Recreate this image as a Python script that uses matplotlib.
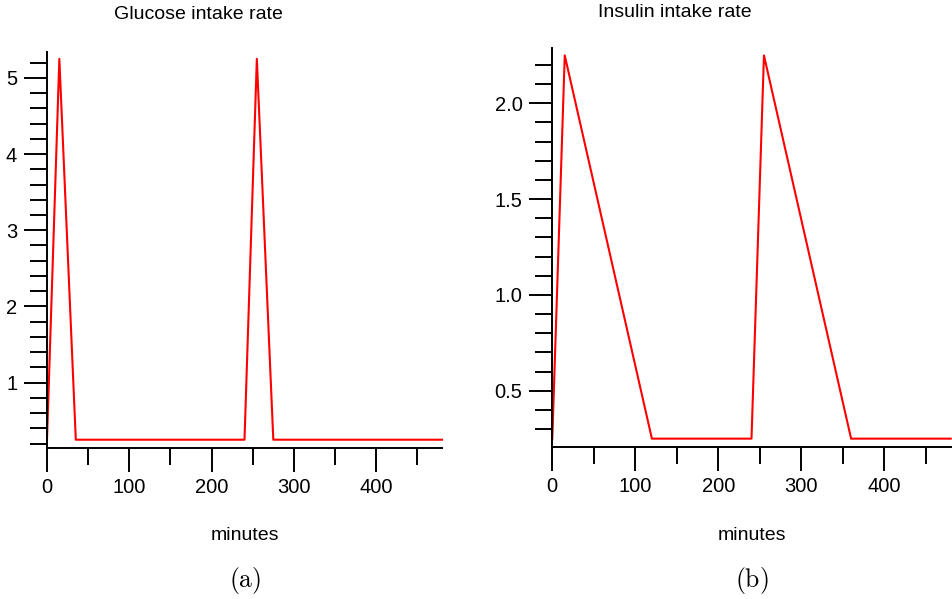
import matplotlib
matplotlib.use("Agg")
import matplotlib.pyplot as plt
from matplotlib.ticker import MultipleLocator

plt.rcParams['font.family'] = ['Liberation Sans', 'DejaVu Sans']
plt.rcParams['mathtext.fontset'] = 'cm'

# data
glucose_t = [0, 15, 35, 240, 255, 275, 480]
glucose_v = [0.25, 5.25, 0.25, 0.25, 5.25, 0.25, 0.25]
insulin_t = [0, 15, 120, 240, 255, 360, 480]
insulin_v = [0.25, 2.25, 0.25, 0.25, 2.25, 0.25, 0.25]
x_ticks = [0, 100, 200, 300, 400]
glucose_yticks = [1, 2, 3, 4, 5]
insulin_yticks = [0.5, 1.0, 1.5, 2.0]

W, H = 952, 599
fig = plt.figure(figsize=(W / 100, H / 100), dpi=100)


def px_axes(x0, x1, ytop, ybot):
    return fig.add_axes([x0 / W, 1 - ybot / H, (x1 - x0) / W, (ybot - ytop) / H])


def style(ax, ylim, yticks, yminor, ylabels):
    ax.set_xlim(0, 480)
    ax.set_ylim(*ylim)
    for s in ['top', 'right']:
        ax.spines[s].set_visible(False)
    for s in ['left', 'bottom']:
        ax.spines[s].set_linewidth(1.4)
        ax.spines[s].set_color('black')
    ax.set_xticks(x_ticks)
    ax.xaxis.set_minor_locator(MultipleLocator(50))
    ax.set_yticks(yticks)
    ax.set_yticklabels(ylabels)
    ax.yaxis.set_minor_locator(MultipleLocator(yminor))
    ax.tick_params(which='major', direction='out', length=17, width=1.4,
                   labelsize=14.5, pad=5, colors='black')
    ax.tick_params(which='minor', direction='out', length=12, width=1.4)
    ax.tick_params(axis='y', which='major', length=16.5)
    ax.tick_params(axis='y', which='minor', length=12)
    ax.set_facecolor('none')


ax1 = px_axes(47, 442, 52, 447.7)
ax1.plot(glucose_t, glucose_v, color='red', lw=1.5, clip_on=False)
style(ax1, (0.145, 5.34), glucose_yticks, 0.2, [str(v) for v in glucose_yticks])

ax2 = px_axes(552.3, 950.7, 48.3, 446.7)
ax2.plot(insulin_t, insulin_v, color='red', lw=1.5, clip_on=False)
style(ax2, (0.208, 2.287), insulin_yticks, 0.1, [f"{v:.1f}" for v in insulin_yticks])

fig.text(198.5 / W, 1 - 19 / H, "Glucose intake rate", ha='center', va='baseline', fontsize=14)
fig.text(674.7 / W, 1 - 17 / H, "Insulin intake rate", ha='center', va='baseline', fontsize=14)
fig.text(244.7 / W, 1 - 540 / H, "minutes", ha='center', va='baseline', fontsize=14)
fig.text(751.5 / W, 1 - 540 / H, "minutes", ha='center', va='baseline', fontsize=14)
fig.text(245 / W, 1 - 580 / H, r"$\mathrm{(a)}$", ha='center', va='center', fontsize=18.5)
fig.text(751.7 / W, 1 - 580 / H, r"$\mathrm{(b)}$", ha='center', va='center', fontsize=18.5)

fig.savefig("out.png", dpi=100)
